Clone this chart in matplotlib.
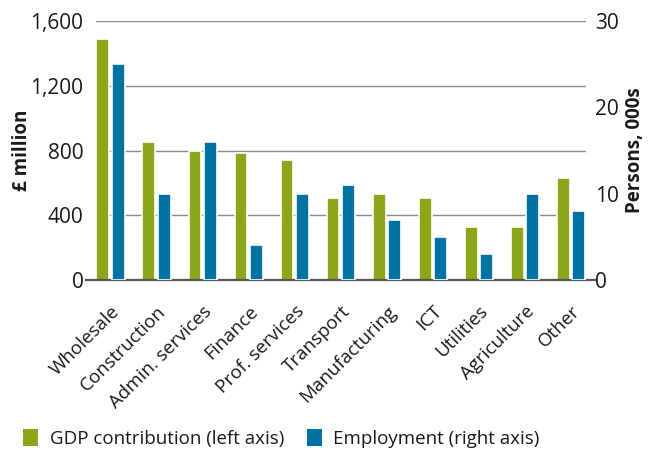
import matplotlib
matplotlib.use("Agg")
import matplotlib.pyplot as plt
import numpy as np
from matplotlib.lines import Line2D
from matplotlib.patches import Patch

plt.rcParams['font.family'] = ['Open Sans', 'DejaVu Sans']

categories = ["Wholesale", "Construction", "Admin. services", "Finance",
              "Prof. services", "Transport", "Manufacturing", "ICT",
              "Utilities", "Agriculture", "Other"]
gdp = [1490, 850, 800, 785, 740, 505, 530, 505, 325, 325, 630]          # £ million
employment = [25, 10, 16, 4, 10, 11, 7, 5, 3, 10, 8]                   # persons, 000s

left_ticks = [0, 400, 800, 1200, 1600]
right_ticks = [0, 10, 20, 30]

green = "#8ba619"
blue = "#0073a2"
text_col = "#1a1a1a"

fig = plt.figure(figsize=(6.53, 4.5), dpi=100)
ax = fig.add_axes([0.147, 0.378, 0.750, 0.575])
ax2 = ax.twinx()

x = np.arange(len(categories))
w = 0.28
off = 0.17
ax.bar(x - off, gdp, width=w, color=green, edgecolor="white", linewidth=1.2, zorder=3)
ax2.bar(x + off, employment, width=w, color=blue, edgecolor="white", linewidth=1.2, zorder=3)

ax.set_xlim(-0.32, len(categories) - 1 + 0.32)
ax.set_ylim(0, 1600)
ax2.set_ylim(0, 30)
ax.set_yticks(left_ticks)
ax.set_yticklabels([f"{v:,}" for v in left_ticks])
ax2.set_yticks(right_ticks)

for a in (ax, ax2):
    for s in a.spines.values():
        s.set_visible(False)
    a.tick_params(length=0, labelsize=15, labelcolor=text_col)
ax.tick_params(axis='y', pad=9)
ax2.tick_params(axis='y', pad=7)

ax.yaxis.grid(True, color="#8c8c8c", linewidth=1.0, zorder=0)
ax.set_axisbelow(True)
ax2.patch.set_visible(False)

ax.set_xticks(x)
ax.set_xticklabels(categories, rotation=45, ha="right", rotation_mode="anchor",
                   fontsize=13.5, color=text_col)
ax.tick_params(axis='x', pad=16)

# baseline
ax.add_line(Line2D([-0.02, 1.02], [0, 0], transform=ax.transAxes, color="#555555",
                   linewidth=1.6, clip_on=False, zorder=5))

ax.set_ylabel("£ million", fontsize=13.5, fontweight="bold", color=text_col)
ax.yaxis.set_label_coords(-0.13, 0.5)
ax2.set_ylabel("Persons, 000s", fontsize=13.5, fontweight="bold", color=text_col, labelpad=4)

handles = [Patch(facecolor=green, label="GDP contribution (left axis)"),
           Patch(facecolor=blue, label="Employment (right axis)")]
fig.legend(handles=handles, loc="center left", bbox_to_anchor=(0.01, 0.025), ncol=2,
           frameon=False, fontsize=13.5, handlelength=0.8, handleheight=1.0,
           handletextpad=0.6, columnspacing=1.2, labelcolor=text_col)

fig.savefig("out.png", dpi=100)
